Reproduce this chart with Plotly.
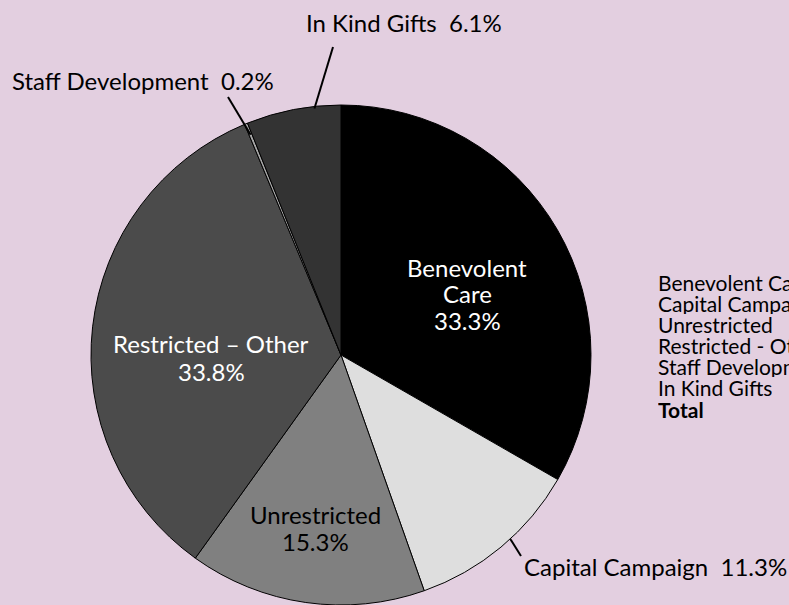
import math
import plotly.graph_objects as go

# ---- data ----
categories = ["Benevolent Care", "Capital Campaign", "Unrestricted",
              "Restricted – Other", "Staff Development", "In Kind Gifts"]
shares = [33.3, 11.3, 15.3, 33.8, 0.2, 6.1]
table_rows = ["Benevolent Care", "Capital Campaign", "Unrestricted",
              "Restricted - Other", "Staff Development", "In Kind Gifts", "Total"]

# ---- style ----
W, H = 789, 605
BG = "#e3cfe0"
colors = ["#000000", "#dedede", "#808080", "#4b4b4b", "#a6a6a6", "#333333"]
FONT = "Lato"
LBL = 24

cx, cy, R = 341, 355, 250  # pie placement in pixels


def px(x):
    return x / W


def py(y):
    return (H - y) / H


fig = go.Figure(go.Pie(
    labels=categories,
    values=shares,
    sort=False,
    direction="clockwise",
    rotation=0,
    marker=dict(colors=colors, line=dict(color="#000000", width=1)),
    textinfo="none",
    hoverinfo="label+percent",
    showlegend=False,
    domain=dict(x=[px(cx - R), px(cx + R)], y=[py(cy + R), py(cy - R)]),
))

annotations = []
shapes = []


def edge_point(idx, frac, r):
    start = sum(shares[:idx])
    pos = (start + frac * shares[idx]) / sum(shares)
    a = 2 * math.pi * pos
    return cx + r * math.sin(a), cy - r * math.cos(a)


def pct(i):
    return f"{shares[i]:.1f}%"


def add_text(txt, x, y, col="black", size=LBL, anchor="center", height=None):
    a = dict(
        x=px(x), y=py(y), xref="paper", yref="paper", text=txt,
        showarrow=False, font=dict(family=FONT, size=size, color=col),
        xanchor=anchor, yanchor="middle",
    )
    if height:
        a["height"] = height
        a["valign"] = "middle"
    annotations.append(a)


# inside labels (one annotation per line)
add_text("Benevolent", 467, 267, "white")
add_text("Care", 467, 293, "white")
add_text(pct(0), 467, 320, "white")
add_text(categories[3], 211, 344, "white")
add_text(pct(3), 211, 371, "white")
add_text(categories[2], 315, 514, "black")
add_text(pct(2), 315, 541, "black")

# outside labels
add_text(f"{categories[4]}&nbsp;&nbsp;{pct(4)}", 143, 80)
add_text(f"{categories[5]}&nbsp;&nbsp;{pct(5)}", 404, 22)
add_text(f"{categories[1]}&nbsp;&nbsp;{pct(1)}", 522, 566, anchor="left")

# leader lines
leaders = [
    (4, 0.5, 238, (228, 97)),
    (5, 0.72, 248, (333, 47)),
    (1, 0.43, 250, (521, 556)),
]
for i, frac, r, (ox, oy) in leaders:
    ix, iy = edge_point(i, frac, r)
    shapes.append(dict(
        type="line", xref="paper", yref="paper",
        x0=px(ix), y0=py(iy), x1=px(ox), y1=py(oy),
        line=dict(color="black", width=2),
    ))

# clipped table on the right
for k, name in enumerate(table_rows):
    txt = f"<b>{name}</b>" if name == "Total" else name
    add_text(txt, 656, 282 + k * 21.2, size=21, anchor="left", height=21)

fig.update_layout(
    width=W, height=H,
    margin=dict(l=0, r=0, t=0, b=0),
    paper_bgcolor=BG, plot_bgcolor=BG,
    annotations=annotations, shapes=shapes,
)

fig.write_html(
    "out.html",
    config={"displayModeBar": False},
    post_script="document.body.style.margin='0';document.body.style.overflow='hidden';",
)
